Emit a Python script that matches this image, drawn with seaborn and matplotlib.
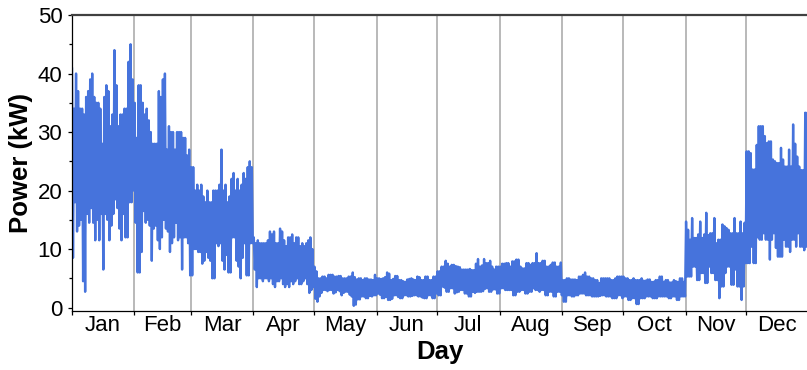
import numpy as np
import pandas as pd
import matplotlib
matplotlib.use("Agg")
import matplotlib.pyplot as plt
import seaborn as sns
from matplotlib.ticker import MultipleLocator

# Months of the year and their lengths (non-leap year)
months = ["Jan", "Feb", "Mar", "Apr", "May", "Jun",
          "Jul", "Aug", "Sep", "Oct", "Nov", "Dec"]
month_days = [31, 28, 31, 30, 31, 30, 31, 31, 30, 31, 30, 31]

# Daily peak and trough of the load, kW
jan_high = [41, 34, 40, 37, 34, 34, 33, 36, 37, 39, 40, 36, 35, 35, 34, 28,
            36, 38, 37, 31, 33, 44, 38, 31, 33, 33, 34, 34, 42, 45, 39]
jan_low = [8.5, 18, 13, 14, 15, 4.5, 2.7, 16, 14.5, 17, 14.5, 11.5, 15, 11.5,
           16, 6.5, 16, 15, 11.5, 14, 16, 18.5, 17, 13.5, 11.5, 16, 12, 12,
           18, 18, 20]
feb_high = [35, 29, 38, 38, 35, 33, 34, 32, 30, 28, 28, 28, 37, 36, 39, 40,
            27, 31, 30, 30, 27, 30, 30, 30, 29, 29, 26, 27]
feb_low = [14.5, 6, 6, 9.5, 16.5, 14.5, 15, 14, 8, 13.5, 14, 11.5, 10, 12,
           15, 13.5, 13, 9.5, 11, 12, 14.5, 11.5, 12, 6.5, 12, 12, 11, 5.5]
mar_high = [24, 24, 20, 21, 20, 21, 19, 18, 20, 18, 18, 20, 20, 20, 21, 27,
            20, 21, 18, 19, 22, 23, 20, 22, 20, 21, 23, 22, 24, 25, 24]
mar_low = [5.5, 10, 10, 9.5, 9.5, 7.5, 8, 9.5, 8.5, 8, 5, 5, 11, 10.5, 11,
           8, 6.5, 9, 6, 6, 12, 12, 8, 7, 5, 8.5, 11, 5.5, 5.5, 11, 11]
apr_high = [12, 11, 11.5, 11, 11, 11, 11, 11.5, 13, 12.5, 13, 11, 11, 13.5,
            13, 11.5, 10.5, 12, 12, 12.5, 11, 12, 12, 10.5, 11, 10.5, 11,
            11.5, 12, 10]
apr_low = [6.5, 3.5, 5, 5, 4.5, 5, 5, 4.5, 5, 4, 3.5, 4.5, 4.5, 5, 4, 3.5, 4,
           3.5, 4.5, 4, 4.5, 5, 4, 4, 4.5, 5, 4, 2.5, 3, 3.5]
may_high = [7, 6.2, 5.0, 5.0, 5.3, 5.3, 5.0, 5.6, 5.6, 5.6, 5.3, 5.3, 5.4,
            5.4, 5.0, 5.0, 5.0, 5.3, 5.3, 6.0, 5.2, 4.8, 5.0, 5.0, 4.7, 5.0,
            5.0, 4.8, 4.8, 4.7, 5.6]
may_low = [1.5, 1.0, 1.9, 2.5, 3.0, 3.0, 2.8, 3.0, 3.0, 2.4, 2.6, 3.0, 2.8,
           2.1, 2.5, 2.7, 2.7, 2.2, 1.9, 0.3, 0.5, 1.4, 1.4, 1.9, 1.9, 1.6,
           1.6, 2.0, 1.9, 2.1, 2.1]
jun_high = [5.0, 5.0, 4.9, 5.0, 5.2, 6.0, 5.8, 4.7, 4.9, 5.4, 5.4, 4.7, 4.7,
            4.5, 4.4, 4.8, 4.9, 5.0, 4.8, 4.7, 5.3, 5.2, 4.7, 4.7, 5.3, 5.3,
            4.7, 4.7, 5.3, 5.3]
jun_low = [2.4, 2.2, 1.6, 1.6, 1.8, 1.3, 1.3, 1.5, 2.1, 2.1, 1.8, 1.6, 1.6,
           2.1, 2.1, 1.9, 1.9, 2.0, 2.1, 2.1, 1.9, 1.9, 1.7, 1.6, 1.6, 2.1,
           2.1, 1.6, 1.6, 2.4]
jul_high = [6.2, 6.2, 7.0, 7.0, 8.0, 7.5, 7.0, 7.3, 7.3, 7.1, 7.0, 6.9, 6.5,
            6.5, 6.5, 6.5, 6.6, 6.4, 6.4, 7.5, 8.3, 7.0, 7.2, 8.3, 7.6, 7.6,
            8.0, 7.0, 6.5, 7.0, 7.0]
jul_low = [2.1, 2.1, 3.6, 3.4, 2.7, 2.7, 3.3, 3.3, 2.4, 2.6, 2.7, 3.0, 3.0,
           2.4, 2.4, 1.9, 1.9, 2.7, 2.5, 2.7, 2.7, 2.7, 2.8, 3.2, 3.3, 2.7,
           2.7, 3.1, 3.1, 2.4, 2.4]
aug_high = [7.0, 7.5, 7.5, 7.6, 7.6, 7.0, 7.9, 7.9, 8.2, 8.2, 7.0, 6.7, 6.7,
            7.6, 7.6, 7.3, 7.6, 7.6, 9.3, 7.6, 7.6, 8.0, 8.0, 7.0, 7.0, 7.3,
            7.7, 7.7, 7.0, 7.0, 7.7]
aug_low = [3.3, 3.3, 3.0, 3.0, 3.0, 3.0, 2.1, 2.1, 2.7, 2.7, 3.0, 3.0, 2.4,
           2.4, 2.7, 2.7, 3.3, 3.0, 3.0, 2.7, 3.0, 3.0, 2.1, 2.1, 2.7, 2.7,
           1.9, 1.9, 2.7, 2.7, 2.1]
sep_high = [4.7, 4.7, 5.0, 5.0, 4.8, 4.8, 4.8, 4.7, 5.3, 5.3, 5.6, 6.0, 5.3,
            5.3, 5.0, 5.0, 4.7, 4.7, 4.2, 5.0, 5.0, 5.0, 5.0, 5.0, 4.7, 4.7,
            5.0, 5.3, 5.3, 5.3]
sep_low = [1.0, 1.0, 2.1, 2.1, 1.9, 1.9, 2.1, 2.1, 2.4, 2.4, 2.4, 2.1, 2.1,
           2.1, 1.9, 1.9, 1.9, 1.9, 2.0, 2.1, 2.1, 1.9, 1.9, 1.9, 1.6, 1.6,
           1.6, 2.1, 2.1, 1.6]
oct_high = [5.3, 5.0, 5.0, 4.7, 4.7, 5.0, 4.7, 4.7, 4.7, 5.0, 4.6, 4.6, 4.8,
            4.8, 4.4, 4.4, 4.7, 4.7, 5.3, 5.3, 4.4, 4.7, 4.7, 4.3, 4.3, 4.7,
            4.5, 4.4, 5.0, 5.0, 4.4]
oct_low = [1.9, 1.9, 1.3, 1.3, 1.6, 1.6, 0.6, 0.6, 1.6, 1.6, 1.6, 1.9, 1.9,
           1.9, 1.6, 1.6, 1.6, 1.9, 1.9, 1.9, 1.9, 1.9, 1.6, 1.6, 1.9, 1.9,
           1.3, 1.3, 1.9, 1.9, 1.9]
nov_high = [14.7, 13.3, 11.6, 15.3, 11.9, 11.9, 12.5, 14.7, 11.9, 12.5, 16.2,
            12.4, 12.7, 12.7, 15.3, 11.0, 11.6, 11.6, 14.2, 13.9, 13.6, 13.3,
            12.7, 12.7, 15.3, 12.7, 12.7, 14.7, 12.7, 14.5]
nov_low = [5.3, 5.3, 5.3, 7.0, 7.0, 4.7, 4.7, 5.9, 5.9, 4.2, 4.2, 7.0, 5.9,
           5.9, 4.7, 4.7, 1.6, 3.6, 3.6, 5.9, 7.0, 7.0, 3.9, 3.9, 6.5, 3.6,
           3.6, 1.3, 3.6, 7.6]
dec_high = [26.7, 26.7, 26.4, 23.6, 23.6, 27.8, 31.0, 31.0, 31.0, 29.3, 28.1,
            28.4, 28.4, 25.3, 25.0, 24.7, 24.7, 27.3, 25.3, 24.1, 24.1, 27.0,
            24.1, 31.3, 28.0, 25.8, 24.1, 23.5, 23.5, 33.3, 33.3]
dec_low = [7.6, 7.6, 10.4, 7.6, 7.6, 12.0, 11.6, 11.6, 12.7, 11.6, 11.6, 8.2,
           11.6, 12.7, 10.2, 8.7, 8.7, 8.7, 11.6, 10.4, 10.4, 9.5, 11.6, 11.6,
           10.4, 12.7, 10.4, 10.4, 9.8, 10.4, 10.4]

high = np.concatenate([jan_high, feb_high, mar_high, apr_high, may_high,
                       jun_high, jul_high, aug_high, sep_high, oct_high,
                       nov_high, dec_high])
low = np.concatenate([jan_low, feb_low, mar_low, apr_low, may_low, jun_low,
                      jul_low, aug_low, sep_low, oct_low, nov_low, dec_low])

# Each day contributes its peak (morning) and trough (evening)
n_days = len(high)
df = pd.DataFrame({
    "day": np.repeat(np.arange(n_days), 2) + np.tile([0.25, 0.75], n_days),
    "power": np.column_stack([high, low]).ravel(),
})

sns.set_style("ticks")
plt.rcParams["font.family"] = ["Liberation Sans", "DejaVu Sans"]
plt.rcParams.update({"text.color": "black", "axes.labelcolor": "black",
                     "xtick.color": "black", "ytick.color": "black"})

fig = plt.figure(figsize=(8.07, 3.70), dpi=100)
ax = fig.add_axes([0.0886, 0.1608, 0.9136, 0.7986])

bounds = np.concatenate([[0], np.cumsum(month_days)])
for b in bounds[1:-1]:
    ax.axvline(b, color="#a6a6a6", lw=1.1, zorder=0)

sns.lineplot(data=df, x="day", y="power", ax=ax, color="#4673DC",
             lw=1.7, estimator=None, sort=False, zorder=2)

ax.set_xlim(0, 365)
ax.set_ylim(-0.5, 50)

ax.set_xticks(bounds)
ax.set_xticklabels([])
ax.set_xticks(bounds[:-1] + np.array(month_days) / 2, minor=True)
ax.set_xticklabels(months, minor=True)
ax.tick_params(axis="x", which="major", length=3.2, width=0.9,
               direction="out", color="black")
ax.tick_params(axis="x", which="minor", length=0, pad=3, labelsize=16,
               labelcolor="black")

ax.set_yticks(range(0, 51, 10))
ax.yaxis.set_minor_locator(MultipleLocator(5))
ax.tick_params(axis="y", which="major", length=3.1, width=0.9,
               direction="out", pad=3.5, labelsize=16, color="black",
               labelcolor="black")
ax.tick_params(axis="y", which="minor", length=2.0, width=0.9,
               direction="out", color="black")

for side in ("left", "bottom"):
    ax.spines[side].set_color("black")
    ax.spines[side].set_linewidth(0.9)
ax.spines["top"].set_color("#404040")
ax.spines["top"].set_linewidth(1.6)
ax.spines["right"].set_visible(False)

ax.set_xlabel("Day", fontsize=18.5, fontweight="bold", labelpad=3,
              color="black")
ax.set_ylabel("Power (kW)", fontsize=18.5, fontweight="bold", labelpad=3.5,
              color="black")

fig.savefig("out.png", dpi=100)
